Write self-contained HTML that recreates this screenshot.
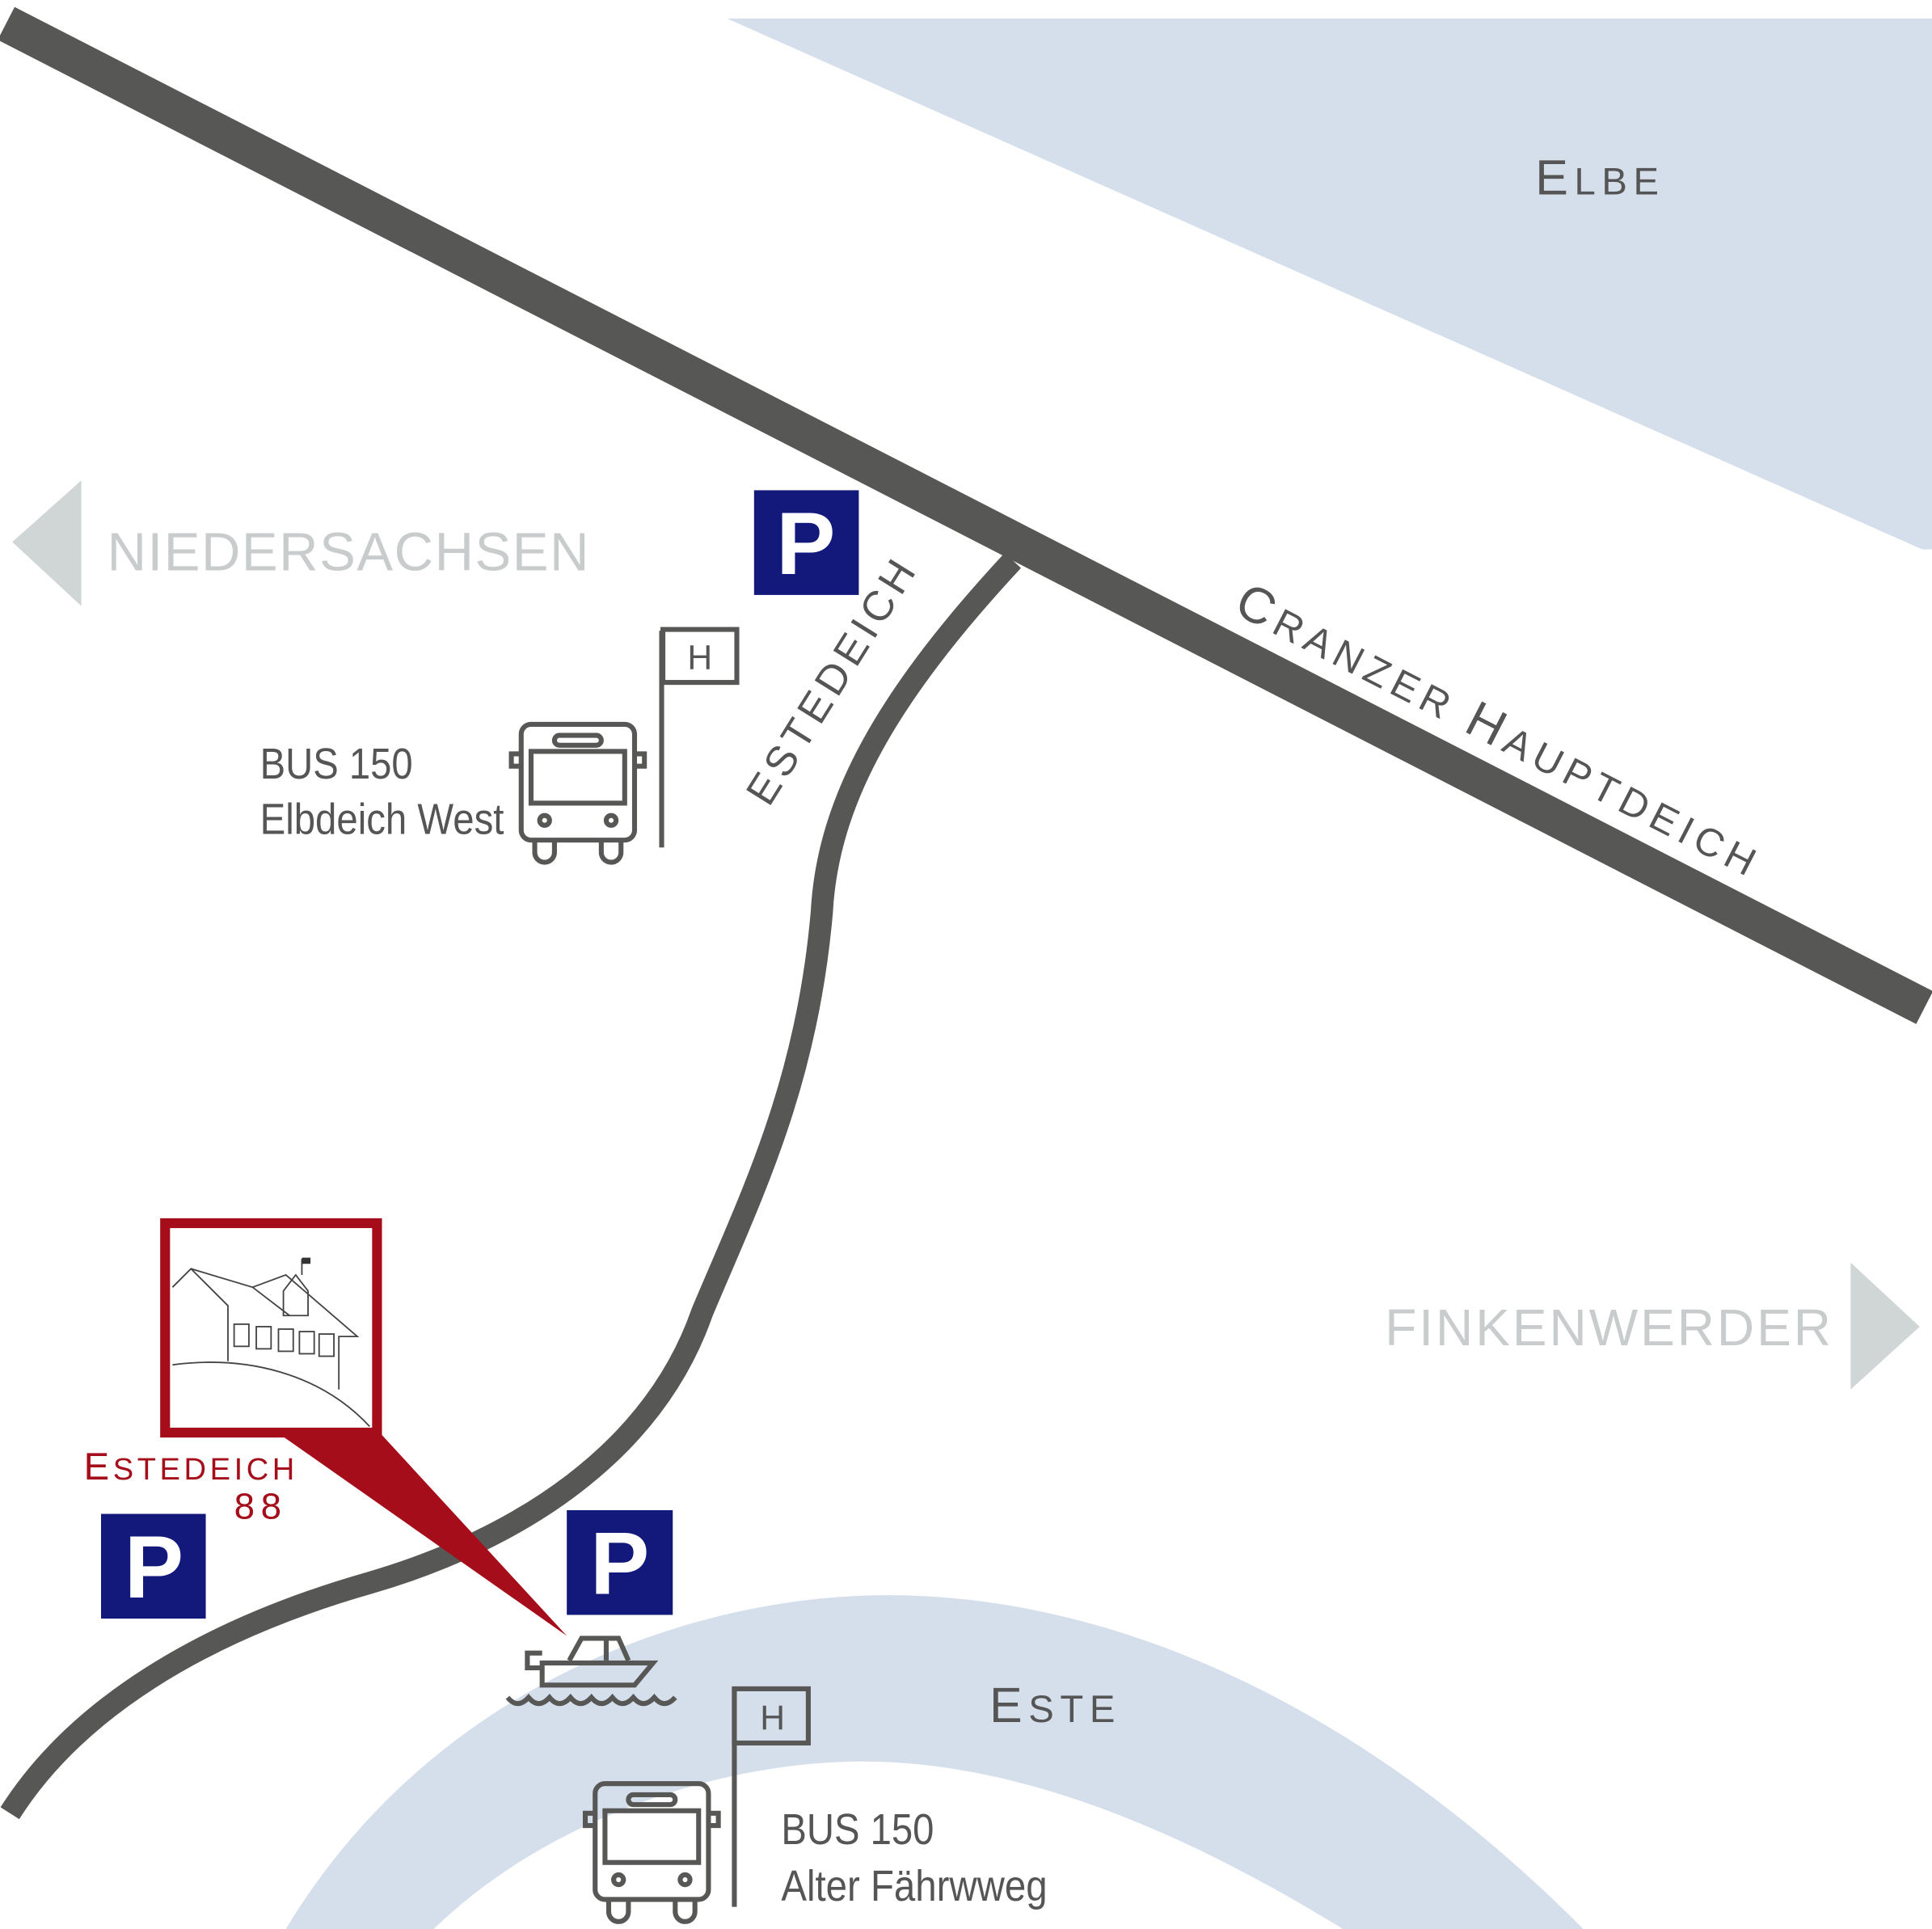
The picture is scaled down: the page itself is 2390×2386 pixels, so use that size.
<!DOCTYPE html>
<html><head><meta charset="utf-8"><style>html,body{margin:0;padding:0;background:#fff}svg{display:block}</style></head>
<body>
<svg width="2390" height="2386" viewBox="0 0 1568 1566" preserveAspectRatio="none" xmlns="http://www.w3.org/2000/svg">
<rect width="1568" height="1566" fill="#fff"/>
<polygon points="590,15 1568,15 1568,446 1560,446" fill="#d5deeb"/>
<path d="M232,1566 C350,1370 560,1295 720,1295 C900,1295 1100,1380 1285,1566 L1090,1566 C950,1480 820,1430 700,1430 C580,1430 440,1480 352,1566 Z" fill="#d5deeb"/>
<line x1="5" y1="19" x2="1562" y2="818" stroke="#575756" stroke-width="30"/>
<path d="M822,455 C720,565 672,650 667,740 C655,880 610,970 570,1065 C530,1180 420,1250 300,1285 C160,1325 60,1390 8,1472" fill="none" stroke="#575756" stroke-width="18"/>
<polygon points="10,440 66,390 66,492" fill="#d0d5d5"/>
<polygon points="1502,1025 1558,1077 1502,1128" fill="#d0d5d5"/>
<g font-family="Liberation Sans, sans-serif">
<text x="87" y="463" font-size="44" fill="#c8cccc" letter-spacing="1">NIEDERSACHSEN</text>
<text x="1124" y="1092" font-size="42" fill="#c8cccc" letter-spacing="1" textLength="363">FINKENWERDER</text>
<text x="1246" y="158" fill="#555" letter-spacing="5"><tspan font-size="40">E</tspan><tspan font-size="31">LBE</tspan></text>
<text x="803" y="1398" fill="#555" letter-spacing="5"><tspan font-size="40">E</tspan><tspan font-size="31">STE</tspan></text>
<text transform="translate(1000,497) rotate(27.2)" fill="#555" letter-spacing="5"><tspan font-size="41">C</tspan><tspan font-size="32">RANZER </tspan><tspan font-size="41">H</tspan><tspan font-size="32">AUPTDEICH</tspan></text>
<text transform="translate(624,656) rotate(-58)" fill="#555" letter-spacing="4" font-size="34">ESTEDEICH</text>
<text x="68" y="1201" fill="#a50d1a" letter-spacing="3"><tspan font-size="31">E</tspan><tspan font-size="25">STEDEICH</tspan></text>
<text x="190" y="1233" fill="#a50d1a" font-size="30" letter-spacing="5">88</text>
<g font-family="Liberation Sans Narrow, Liberation Sans, sans-serif" font-size="35" fill="#555" lengthAdjust="spacingAndGlyphs">
<text x="211" y="632" textLength="124" lengthAdjust="spacingAndGlyphs">BUS 150</text><text x="211" y="677" textLength="198" lengthAdjust="spacingAndGlyphs">Elbdeich West</text>
<text x="634" y="1497" textLength="124" lengthAdjust="spacingAndGlyphs">BUS 150</text><text x="634" y="1543" textLength="216" lengthAdjust="spacingAndGlyphs">Alter Fährwweg</text>
</g>
</g>
<g fill="#13197a">
<rect x="612" y="398" width="85" height="85"/><rect x="460" y="1226" width="86" height="85"/><rect x="82" y="1229" width="85" height="85"/>
</g>
<g font-family="Liberation Sans, sans-serif" font-weight="bold" font-size="72" fill="#fff" text-anchor="middle">
<text x="654" y="466">P</text><text x="503" y="1294">P</text><text x="125" y="1297">P</text>
</g>
<g fill="none" stroke="#575756" stroke-width="4">
<line x1="537" y1="512" x2="537" y2="688"/><rect x="538" y="511" width="60" height="43"/>
<line x1="596" y1="1370" x2="596" y2="1548"/><rect x="596" y="1371" width="60" height="44"/>
</g>
<g font-family="Liberation Sans, sans-serif" font-size="28" fill="#555" text-anchor="middle">
<text x="568" y="543">H</text><text x="627" y="1404">H</text>
</g>
<g id="bus" fill="none" stroke="#575756" stroke-width="4">
<rect x="423" y="588" width="92" height="94" rx="8"/>
<rect x="431" y="610" width="76" height="42"/>
<rect x="450" y="597" width="38" height="8" rx="4"/>
<circle cx="442" cy="666" r="4"/><circle cx="496" cy="666" r="4"/>
<path d="M434,682 v10 a8,8 0 0 0 16,0 v-10 M488,682 v10 a8,8 0 0 0 16,0 v-10"/>
<path d="M423,612 h-8 v10 h8 M515,612 h8 v10 h-8"/>
</g>
<use href="#bus" transform="translate(60,860)"/>
<g fill="none" stroke="#575756" stroke-width="4">
<path d="M440,1350 h90 l-15,18 h-75 z"/>
<path d="M462,1348 l10,-18 h30 l8,18"/>
<line x1="492" y1="1330" x2="492" y2="1348"/>
<path d="M440,1342 h-12 v12 h12"/>
<path d="M412,1378 q8,10 17,0 q8,10 17,0 q8,10 17,0 q8,10 17,0 q8,10 17,0 q8,10 17,0 q8,10 17,0 q8,10 17,0"/>
</g>
<polygon points="228,1165 310,1165 460,1328" fill="#a50d1a"/>
<rect x="134" y="993" width="172" height="170" fill="#fff" stroke="#a50d1a" stroke-width="8"/>
<g fill="none" stroke="#444" stroke-width="1.2">
<path d="M140,1108 C200,1100 260,1115 300,1158"/>
<path d="M140,1045 L155,1030 L205,1045 L232,1035 L290,1085 L275,1085 L275,1128"/>
<path d="M155,1030 L185,1060 L185,1105"/>
<path d="M205,1045 L235,1068"/>
<path d="M230,1048 L240,1035 L250,1048 v20 h-20 z"/>
<line x1="245" y1="1035" x2="245" y2="1022"/>
<rect x="190" y="1075" width="12" height="18"/><rect x="208" y="1077" width="12" height="18"/><rect x="226" y="1079" width="12" height="18"/><rect x="243" y="1081" width="12" height="18"/><rect x="259" y="1083" width="12" height="18"/>
</g>
<rect x="245" y="1021" width="7" height="5" fill="#333"/>
</svg>
</body></html>
